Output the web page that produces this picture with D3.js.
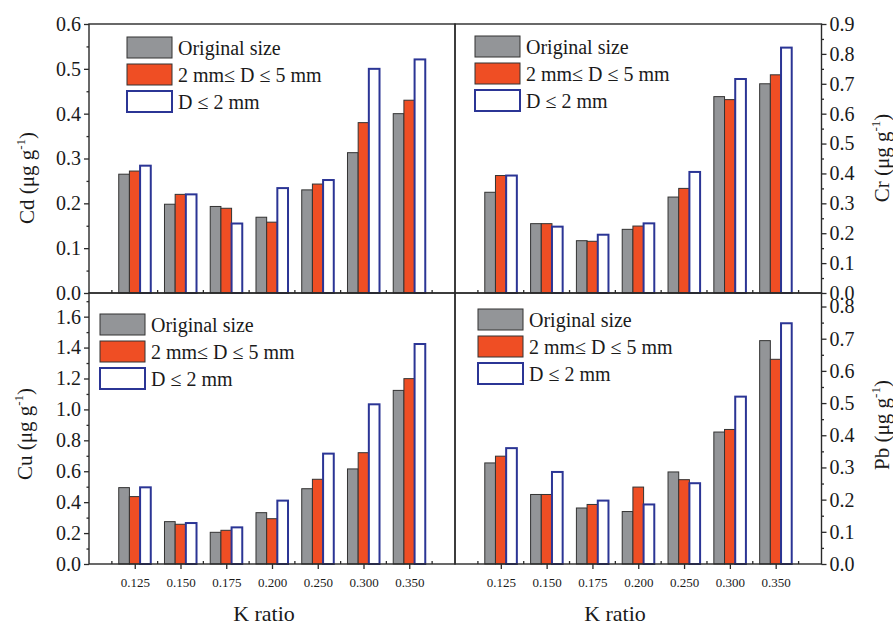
<!DOCTYPE html>
<html>
<head>
<meta charset="utf-8">
<script src="https://cdn.jsdelivr.net/npm/d3@7"></script>
<style>
  body { margin: 0; padding: 0; background: #fff; }
</style>
</head>
<body>
<script>
// K ratio categories and the three particle size series
const kRatio = ["0.125", "0.150", "0.175", "0.200", "0.250", "0.300", "0.350"]
const seriesNames = ["Original size", "2 mm\u2264 D \u2264 5 mm", "D \u2264 2 mm"]

const cdOriginal = [0.265, 0.198, 0.193, 0.169, 0.230, 0.313, 0.400]
const cdMedium   = [0.272, 0.220, 0.189, 0.158, 0.243, 0.380, 0.430]
const cdFine     = [0.284, 0.220, 0.155, 0.234, 0.252, 0.500, 0.521]

const crOriginal = [0.337, 0.232, 0.175, 0.213, 0.321, 0.657, 0.700]
const crMedium   = [0.393, 0.232, 0.173, 0.224, 0.350, 0.647, 0.730]
const crFine     = [0.393, 0.222, 0.195, 0.233, 0.405, 0.716, 0.821]

const cuOriginal = [0.494, 0.274, 0.205, 0.332, 0.487, 0.615, 1.123]
const cuMedium   = [0.436, 0.257, 0.218, 0.293, 0.548, 0.720, 1.199]
const cuFine     = [0.496, 0.265, 0.237, 0.410, 0.714, 1.033, 1.423]

const pbOriginal = [0.314, 0.216, 0.174, 0.163, 0.286, 0.410, 0.694]
const pbMedium   = [0.335, 0.216, 0.185, 0.239, 0.262, 0.418, 0.636]
const pbFine     = [0.360, 0.286, 0.197, 0.185, 0.251, 0.520, 0.748]

const fills = ["#939598", "#ef4e24", "#ffffff"]
const strokes = ["#333", "#333", "#2b3595"]
const strokeW = [1, 1, 2]
const frameColor = "#2a2a2a"
const serif = "Liberation Serif, DejaVu Serif, serif"

const width = 893
const height = 626

const svg = d3.select("body").append("svg")
  .attr("width", width)
  .attr("height", height)
  .attr("font-family", serif)

svg.append("rect").attr("width", width).attr("height", height).attr("fill", "#fff")

const panels = [
  { element: "Cd", series: [cdOriginal, cdMedium, cdFine], x0: 89, x1: 455, y0: 24, y1: 293,
    yMax: 0.6, major: 0.1, top: 0.6, side: "left", labels: false,
    legend: [127, 37], title: [34, 178] },
  { element: "Cr", series: [crOriginal, crMedium, crFine], x0: 455, x1: 821.5, y0: 24, y1: 293,
    yMax: 0.9, major: 0.1, top: 0.9, side: "right", labels: false,
    legend: [475, 36], title: [889, 158] },
  { element: "Cu", series: [cuOriginal, cuMedium, cuFine], x0: 89, x1: 455, y0: 293, y1: 564,
    yMax: 1.753, major: 0.2, top: 1.6, side: "left", labels: true,
    legend: [100, 314], title: [32, 434] },
  { element: "Pb", series: [pbOriginal, pbMedium, pbFine], x0: 455, x1: 821.5, y0: 293, y1: 564,
    yMax: 0.842, major: 0.1, top: 0.8, side: "right", labels: true,
    legend: [478, 309], title: [889, 425] }
]

const styleText = sel => sel
  .attr("fill", "#1a1a1a")
  .attr("font-family", serif)

const drawPanel = p => {
  const g = svg.append("g")

  const x = d3.scalePoint()
    .domain(kRatio)
    .range([p.x0, p.x1])
    .padding(1)
  const step = x.step()
  const groupW = step * 0.7

  const inner = d3.scaleBand()
    .domain(d3.range(3))
    .range([-groupW / 2, groupW / 2])

  const y = d3.scaleLinear()
    .domain([0, p.yMax])
    .range([p.y1, p.y0])

  // bars
  p.series.forEach((vals, s) => {
    g.append("g")
      .selectAll("rect")
      .data(vals)
      .join("rect")
      .attr("x", (d, i) => x(kRatio[i]) + inner(s))
      .attr("y", d => y(d))
      .attr("width", inner.bandwidth())
      .attr("height", d => y(0) - y(d))
      .attr("fill", fills[s])
      .attr("stroke", strokes[s])
      .attr("stroke-width", strokeW[s])
  })

  // frame
  g.append("rect")
    .attr("x", p.x0).attr("y", p.y0)
    .attr("width", p.x1 - p.x0).attr("height", p.y1 - p.y0)
    .attr("fill", "none")
    .attr("stroke", frameColor)
    .attr("stroke-width", 1.4)

  // y axis, major + minor
  const n = Math.round(p.top / p.major)
  const majors = d3.range(n + 1).map(i => +(i * p.major).toFixed(2))
  const minors = d3.range(Math.floor(p.yMax / (p.major / 2)) + 1)
    .map(i => +(i * p.major / 2).toFixed(3))
    .filter(v => majors.indexOf(v) < 0 && v <= p.yMax)

  const axisX = p.side === "left" ? p.x0 : p.x1
  const makeAxis = p.side === "left" ? d3.axisLeft : d3.axisRight

  const yAxis = g.append("g")
    .attr("transform", `translate(${axisX},0)`)
    .call(makeAxis(y).tickValues(majors).tickSize(5).tickPadding(3).tickFormat(d3.format(".1f")))
  const yMinor = g.append("g")
    .attr("transform", `translate(${axisX},0)`)
    .call(makeAxis(y).tickValues(minors).tickSize(2.5).tickFormat(""))

  ;[yAxis, yMinor].forEach(a => {
    a.select(".domain").remove()
    a.attr("font-family", serif)
    a.selectAll("line").attr("stroke", frameColor).attr("stroke-width", 1.3)
  })
  yAxis.selectAll("text")
    .attr("font-size", 20)
    .call(styleText)

  // x axis: minor ticks inside at half steps, major ticks outside with labels
  const halfTicks = d3.range(kRatio.length + 1).map(i => p.x0 + step * (i + 0.5))
  g.append("g")
    .selectAll("line")
    .data(halfTicks)
    .join("line")
    .attr("x1", d => d).attr("x2", d => d)
    .attr("y1", p.y1).attr("y2", p.y1 - 3)
    .attr("stroke", frameColor)
    .attr("stroke-width", 1.3)

  if (p.labels) {
    const xAxis = g.append("g")
      .attr("transform", `translate(0,${p.y1})`)
      .call(d3.axisBottom(x).tickSize(5).tickPadding(9))
    xAxis.select(".domain").remove()
    xAxis.attr("font-family", serif)
    xAxis.selectAll("line").attr("stroke", frameColor).attr("stroke-width", 1.3)
    xAxis.selectAll("text")
      .attr("font-size", 13)
      .call(styleText)

    g.append("text")
      .attr("x", p.side === "left" ? 264 : 615)
      .attr("y", 621)
      .attr("text-anchor", "middle")
      .attr("font-size", 22)
      .call(styleText)
      .text("K ratio")
  }

  // y title
  const title = g.append("text")
    .attr("transform", `translate(${p.title[0]},${p.title[1]}) rotate(-90)`)
    .attr("text-anchor", "middle")
    .attr("font-size", 21)
    .call(styleText)
  title.append("tspan").text(p.element + " (\u03bcg g")
  title.append("tspan").attr("dy", -9).attr("font-size", 13).text("-1")
  title.append("tspan").attr("dy", 9).text(")")

  // legend
  const leg = g.append("g")
    .attr("transform", `translate(${p.legend[0]},${p.legend[1]})`)
  seriesNames.forEach((name, s) => {
    const row = leg.append("g").attr("transform", `translate(0,${s * 27})`)
    row.append("rect")
      .attr("width", 45).attr("height", 21)
      .attr("fill", fills[s])
      .attr("stroke", strokes[s])
      .attr("stroke-width", strokeW[s])
    row.append("text")
      .attr("x", 51).attr("y", 17.5)
      .attr("font-size", 20)
      .call(styleText)
      .text(name)
  })
}

panels.forEach(drawPanel)
</script>
</body>
</html>
